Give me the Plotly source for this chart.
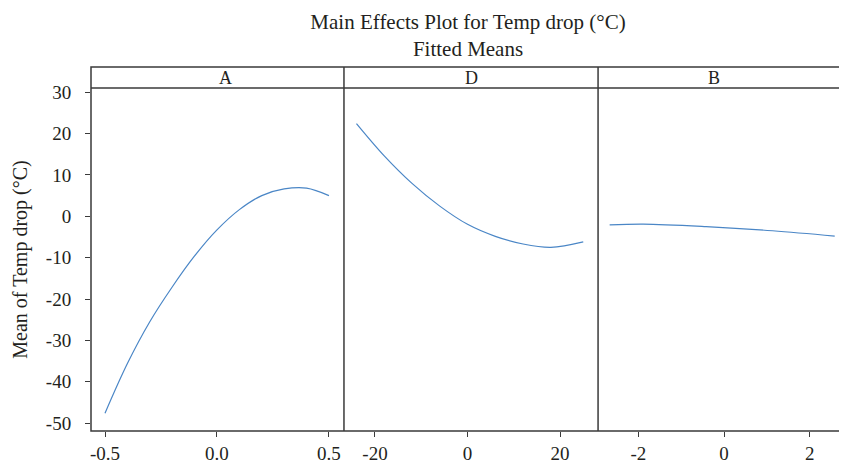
import plotly.graph_objects as go
from plotly.subplots import make_subplots

# Fitted means
factors = ['A', 'D', 'B']

a_x = [-0.5, -0.4, -0.3, -0.2, -0.1, 0.0, 0.1, 0.2, 0.3, 0.4, 0.5]
a_y = [-47.6, -35.6, -25.5, -17.1, -9.6, -3.3, 1.6, 5.0, 6.6, 6.8, 5.0]

d_x = [-24, -18, -12, -6, 0, 6, 12, 18, 25]
d_y = [22.4, 14.6, 7.95, 2.45, -1.95, -4.85, -6.7, -7.5, -6.2]

b_x = [-2.67, -1.89, -0.42, 1.13, 2.58]
b_y = [-2.1, -1.9, -2.5, -3.5, -4.8]

y_ticks = [-50, -40, -30, -20, -10, 0, 10, 20, 30]
y_labels = ['-50', '-40', '-30', '-20', '-10', '0', '10', '20', '30']
a_ticks = [-0.5, 0.0, 0.5]
a_labels = ['-0.5', '0.0', '0.5']
d_ticks = [-20, 0, 20]
d_labels = ['-20', '0', '20']
b_ticks = [-2, 0, 2]
b_labels = ['-2', '0', '2']

line_color = '#4a86c6'
text_color = '#231f20'
frame_color = '#3a3a3a'
font = 'Liberation Serif, Times New Roman, serif'

fig = make_subplots(rows=1, cols=3, shared_yaxes=True, horizontal_spacing=0)

series = [(a_x, a_y), (d_x, d_y), (b_x, b_y)]
for i, (xs, ys) in enumerate(series):
    fig.add_trace(go.Scatter(x=xs, y=ys, mode='lines', line=dict(color=line_color, width=1.2, shape='spline'),
                             showlegend=False, name=factors[i]), row=1, col=i + 1)

# panel domains in paper fractions
doms = [[0, 0.3355], [0.3355, 0.6725], [0.6725, 1]]
ranges = [[-0.5625, 0.567], [-26.7, 28.2], [-2.94, 2.82]]
ticks = [a_ticks, d_ticks, b_ticks]
labels = [a_labels, d_labels, b_labels]

for i in range(3):
    fig.update_xaxes(domain=doms[i], range=ranges[i], tickvals=ticks[i], ticktext=labels[i],
                     ticks='outside', ticklen=5, tickcolor=frame_color, showgrid=False, zeroline=False,
                     showline=False, tickfont=dict(size=19, color=text_color, family=font),
                     row=1, col=i + 1)

fig.update_yaxes(range=[-51.9, 31], tickvals=y_ticks, ticktext=y_labels, showgrid=False, zeroline=False,
                 showline=False)
fig.update_yaxes(ticks='outside', ticklen=5, tickcolor=frame_color, ticklabelstandoff=10,
                 tickfont=dict(size=19, color=text_color, family=font),
                 title=dict(text='Mean of Temp drop (°C)', font=dict(size=20, color=text_color, family=font), standoff=12),
                 row=1, col=1)

# header band and frames
head = 1 + 21 / 345
shapes = [dict(type='rect', xref='paper', yref='paper', x0=0, x1=1, y0=0, y1=head,
               line=dict(color=frame_color, width=1.5)),
          dict(type='line', xref='paper', yref='paper', x0=0, x1=1, y0=1, y1=1,
               line=dict(color=frame_color, width=1.5))]
for d in doms[1:]:
    shapes.append(dict(type='line', xref='paper', yref='paper', x0=d[0], x1=d[0], y0=0, y1=head,
                       line=dict(color=frame_color, width=1.5)))
annotations = []
for i, d in enumerate(doms):
    annotations.append(dict(text=factors[i], xref='paper', yref='paper', x=(d[0] + d[1]) / 2, y=(1 + head) / 2,
                            showarrow=False, yanchor='middle', font=dict(size=18, color=text_color, family=font)))

# page body has an 8px margin, so the figure is sized to fit the window
fig.update_layout(
    width=839, height=458,
    margin=dict(l=83, r=2, t=80, b=25),
    paper_bgcolor='white', plot_bgcolor='white',
    title=dict(text='Main Effects Plot for Temp drop (°C)<br>Fitted Means', x=0.5, xref='paper',
               y=1 - 21 / 458, yanchor='top', font=dict(size=21, color=text_color, family=font)),
    shapes=shapes,
    annotations=annotations,
)

fig.write_html("out.html")
